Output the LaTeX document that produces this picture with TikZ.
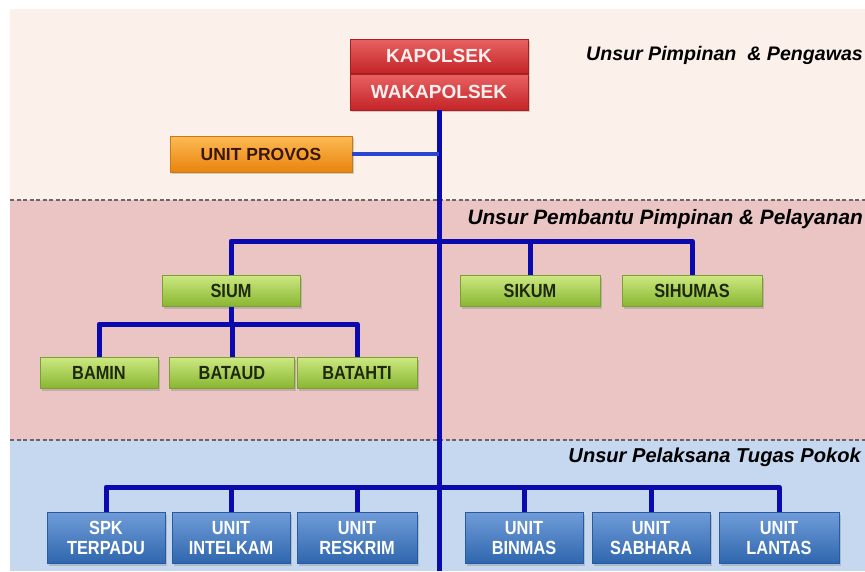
\documentclass[tikz,border=0pt]{standalone}
\usepackage{fontspec}
\setmainfont{Liberation Sans}
\newfontfamily\narrowsans{Liberation Sans}[FakeStretch=0.86]
\usetikzlibrary{shadows}

\definecolor{bandtop}{HTML}{FCF1EA}
\definecolor{bandmid}{HTML}{EBC4C4}
\definecolor{bandlow}{HTML}{C5D8EF}
\definecolor{trunkblue}{HTML}{0A0AAE}
\definecolor{linkblue}{HTML}{2A45D0}
\definecolor{dashgray}{HTML}{6E6468}

\tikzset{
  box/.style={rectangle, inner sep=0pt, align=center,
    drop shadow={opacity=0.35, shadow xshift=1.5pt, shadow yshift=-2pt}},
  redbox/.style={box,
    top color={rgb,255:red,232;green,98;blue,98}, bottom color={rgb,255:red,196;green,36;blue,40},
    draw={rgb,255:red,170;green,30;blue,30}, line width=0.6pt,
    text={rgb,255:red,255;green,240;blue,240},
    font=\bfseries\fontsize{19}{21}\selectfont, minimum width=178pt},
  orangebox/.style={box, top color={rgb,255:red,253;green,186;blue,84},
    bottom color={rgb,255:red,232;green,132;blue,14},
    draw={rgb,255:red,205;green,120;blue,20}, line width=0.6pt,
    text={rgb,255:red,58;green,22;blue,6},
    font=\bfseries\fontsize{17.5}{19}\selectfont, minimum width=182pt, minimum height=36pt},
  greenbox/.style={box, top color={rgb,255:red,204;green,232;blue,128},
    bottom color={rgb,255:red,136;green,182;blue,48},
    draw={rgb,255:red,120;green,160;blue,50}, line width=0.6pt,
    text={rgb,255:red,30;green,40;blue,14},
    font=\narrowsans\bfseries\fontsize{19}{20}\selectfont, minimum height=31pt},
  bluebox/.style={box, top color={rgb,255:red,112;green,156;blue,216},
    bottom color={rgb,255:red,46;green,102;blue,174},
    draw={rgb,255:red,40;green,90;blue,160}, line width=0.6pt,
    text=white,
    font=\narrowsans\bfseries\fontsize{19}{20}\selectfont, minimum height=51pt},
  conn/.style={draw=trunkblue, line width=5pt, line join=round},
  thinconn/.style={draw=linkblue, line width=3.5pt},
  divider/.style={draw=dashgray, line width=1.6pt, dash pattern=on 4pt off 2.5pt},
  bandlabel/.style={inner sep=0pt, font=\bfseries\itshape\fontsize{20.8}{22}\selectfont}
}

\begin{document}
\begin{tikzpicture}[x=1pt, y=-1pt]
  \useasboundingbox (0,0) rectangle (865,571);
  \clip (0,0) rectangle (865,571);

  % three horizontal bands
  \fill[bandtop] (10,9) rectangle (865,200);
  \fill[bandmid] (10,200) rectangle (865,440);
  \fill[bandlow] (10,440) rectangle (865,571);
  \draw[divider] (10,200) -- (865,200);
  \draw[divider] (10,440) -- (865,440);

  % band captions
  \node[bandlabel, font=\bfseries\itshape\fontsize{19.6}{22}\selectfont, anchor=base east]
    (captop) at (863,60) {Unsur Pimpinan \ \& Pengawas};
  \node[bandlabel, anchor=base east] (capmid) at (863,224) {Unsur Pembantu Pimpinan \& Pelayanan};
  \node[bandlabel, font=\bfseries\itshape\fontsize{20.1}{22}\selectfont, anchor=base east]
    (caplow) at (861,462) {Unsur Pelaksana Tugas Pokok};

  % leadership
  \node[redbox, minimum height=34pt] (kap) at (439,56) {KAPOLSEK};
  \node[redbox, minimum height=36pt] (wak) at (439,92) {WAKAPOLSEK};
  \node[orangebox] (provos) at (261,154) {UNIT PROVOS};

  % support staff
  \node[greenbox, minimum width=138pt] (sium)    at (231,291) {SIUM};
  \node[greenbox, minimum width=140pt] (sikum)   at (530,291) {SIKUM};
  \node[greenbox, minimum width=140pt] (sihumas) at (692,291) {SIHUMAS};
  \node[greenbox, minimum width=118pt] (bamin)   at (99,373)  {BAMIN};
  \node[greenbox, minimum width=125pt] (bataud)  at (232,373) {BATAUD};
  \node[greenbox, minimum width=120pt] (batahti) at (357,373) {BATAHTI};

  % operational units
  \node[bluebox, minimum width=118pt] (spk)      at (106,538) {SPK\\TERPADU};
  \node[bluebox, minimum width=118pt] (intelkam) at (231,538) {UNIT\\INTELKAM};
  \node[bluebox, minimum width=120pt] (reskrim)  at (357,538) {UNIT\\RESKRIM};
  \node[bluebox, minimum width=118pt] (binmas)   at (524,538) {UNIT\\BINMAS};
  \node[bluebox, minimum width=118pt] (sabhara)  at (651,538) {UNIT\\SABHARA};
  \node[bluebox, minimum width=120pt] (lantas)   at (779,538) {UNIT\\LANTAS};

  % connector levels
  \coordinate (trunkend) at (440,571);
  \coordinate (barmid) at (0,241);
  \coordinate (barsub) at (0,324);
  \coordinate (barlow) at (0,487);

  % main trunk and branches
  \draw[conn] (wak.south) -- (wak.south |- trunkend);
  \draw[thinconn] (provos.east) -- (provos.east -| wak.south);

  \draw[conn] (sium.north) -- (sium.north |- barmid) -- (sihumas.north |- barmid) -- (sihumas.north);
  \draw[conn] (sikum.north) -- (sikum.north |- barmid);

  \draw[conn] (sium.south) -- (sium.south |- barsub);
  \draw[conn] (bamin.north) -- (bamin.north |- barsub) -- (batahti.north |- barsub) -- (batahti.north);
  \draw[conn] (bataud.north) -- (bataud.north |- barsub);

  \draw[conn] (spk.north) -- (spk.north |- barlow) -- (lantas.north |- barlow) -- (lantas.north);
  \foreach \u in {intelkam, reskrim, binmas, sabhara}
    \draw[conn] (\u.north) -- (\u.north |- barlow);
\end{tikzpicture}
\end{document}
